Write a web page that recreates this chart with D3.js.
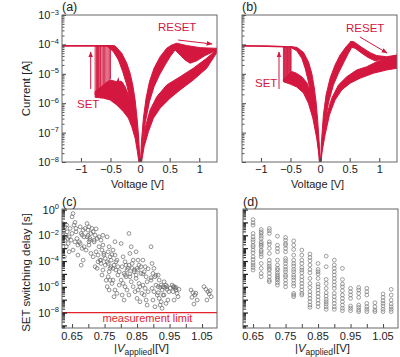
<!DOCTYPE html>
<html><head><meta charset="utf-8">
<script src="https://cdn.jsdelivr.net/npm/d3@7"></script>
<style>body{margin:0;background:#fff} text{font-family:"Liberation Sans",Arial,sans-serif;fill:#222}</style>
</head><body><svg id="c" width="400" height="357"></svg>
<script>
// ---------- Panel (a) I-V data: [voltage V, log10 current A] ----------
const aCompliance = [[-1.32,-4.05],[-0.45,-4.05]];
const aSetV   = [-0.76,-0.74,-0.73,-0.72,-0.71,-0.70,-0.69,-0.67,-0.66,-0.64,-0.62,-0.60,-0.58,-0.56,-0.54,-0.52,-0.50];
const aSetLow = [-5.72,-5.78,-5.65,-5.70,-5.62,-5.58,-5.55,-5.60,-5.50,-5.45,-5.40,-5.48,-5.35,-5.30,-5.25,-5.22,-5.18];
const aLrsNegHi = [[-0.45,-4.05],[-0.422,-4.05],[-0.31,-4.30],[-0.225,-4.64],[-0.169,-4.98],[-0.124,-5.38],[-0.084,-5.89],[-0.051,-6.51],[-0.023,-7.19],[0,-8.3]];
const aLrsNegLo = [[-0.563,-4.05],[-0.45,-4.25],[-0.366,-4.53],[-0.293,-4.93],[-0.225,-5.38],[-0.169,-5.89],[-0.113,-6.51],[-0.056,-7.19],[-0.017,-7.76],[0,-8.3]];
const aHrsNegHi = [[-0.76,-5.6],[-0.66,-5.45],[-0.56,-5.28],[-0.507,-5.21],[-0.394,-5.27],[-0.31,-5.27],[-0.253,-5.44],[-0.197,-5.72],[-0.141,-6.06],[-0.084,-6.51],[-0.039,-7.08],[-0.011,-7.76],[0,-8.3]];
const aHrsNegLo = [[-0.76,-5.80],[-0.619,-5.83],[-0.507,-5.89],[-0.394,-6.06],[-0.282,-6.29],[-0.197,-6.51],[-0.141,-6.80],[-0.084,-7.19],[-0.045,-7.65],[0,-8.3]];
const aGlitch = [[-0.40,-5.35],[-0.37,-5.20],[-0.35,-5.40],[-0.33,-5.24],[-0.31,-5.45],[-0.29,-5.30]];
const aLrsPosHi = [[0,-8.3],[0.023,-7.31],[0.056,-6.51],[0.101,-5.83],[0.158,-5.27],[0.236,-4.81],[0.338,-4.42],[0.45,-4.13],[0.535,-4.02]];
const aLrsPosLo = [[0,-8.3],[0.039,-7.31],[0.09,-6.63],[0.158,-5.95],[0.236,-5.44],[0.327,-5.04],[0.422,-4.70],[0.507,-4.42],[0.591,-4.19]];
const aResetHi = [[0.535,-4.02],[0.62,-3.96],[0.788,-4.04],[1.014,-4.11],[1.239,-4.13],[1.306,-4.13]];
const aResetLo = [[0.591,-4.19],[0.676,-4.36],[0.76,-4.53],[0.845,-4.64],[0.957,-4.56],[1.098,-4.38],[1.239,-4.25],[1.306,-4.19]];
const aHrsPosHi = [[1.306,-4.16],[1.126,-4.47],[0.9,-4.81],[0.676,-5.10],[0.45,-5.38],[0.282,-5.78],[0.169,-6.23],[0.084,-6.85],[0.034,-7.54],[0,-8.3]];
const aHrsPosLo = [[1.306,-4.25],[1.126,-4.81],[0.9,-5.21],[0.676,-5.55],[0.507,-5.83],[0.338,-6.17],[0.225,-6.51],[0.141,-6.97],[0.068,-7.48],[0,-8.3]];

// ---------- Panel (b) I-V data ----------
const bCompliance = [[-1.32,-4.05],[-0.9,-4.06],[-0.6,-4.08],[-0.45,-4.09]];
const bSetV   = [-0.62,-0.61,-0.60,-0.59,-0.58,-0.57,-0.56,-0.55,-0.54,-0.53,-0.52,-0.51,-0.50,-0.49];
const bSetLow = [-5.25,-5.22,-5.20,-5.18,-5.15,-5.12,-5.10,-5.07,-5.05,-5.02,-5.00,-4.97,-4.95,-4.92];
const bLrsNegHi = [[-0.45,-4.09],[-0.394,-4.10],[-0.282,-4.27],[-0.197,-4.59],[-0.141,-4.98],[-0.101,-5.44],[-0.068,-5.95],[-0.039,-6.63],[-0.017,-7.31],[0,-8.3]];
const bLrsNegLo = [[-0.507,-4.09],[-0.394,-4.22],[-0.31,-4.47],[-0.253,-4.81],[-0.197,-5.27],[-0.152,-5.83],[-0.101,-6.40],[-0.056,-7.08],[-0.023,-7.65],[0,-8.3]];
const bHrsNegHi = [[-0.62,-5.2],[-0.55,-5.05],[-0.48,-4.92],[-0.40,-4.98],[-0.31,-5.1],[-0.225,-5.3],[-0.15,-5.7],[-0.09,-6.2],[-0.045,-6.85],[-0.015,-7.5],[0,-8.3]];
const bHrsNegLo = [[-0.62,-5.27],[-0.507,-5.35],[-0.394,-5.45],[-0.282,-5.65],[-0.197,-6.0],[-0.124,-6.5],[-0.056,-7.2],[-0.017,-7.8],[0,-8.3]];
const bLrsPosHi = [[0,-8.3],[0.023,-7.31],[0.056,-6.40],[0.101,-5.72],[0.169,-5.15],[0.253,-4.70],[0.338,-4.36],[0.439,-4.08],[0.507,-3.93],[0.535,-3.90]];
const bLrsPosLo = [[0,-8.3],[0.039,-7.31],[0.084,-6.63],[0.146,-5.95],[0.225,-5.38],[0.310,-4.98],[0.394,-4.64],[0.479,-4.30],[0.535,-4.10],[0.563,-4.05]];
const bResetHi = [[0.507,-3.91],[0.563,-3.90],[0.704,-4.10],[0.845,-4.28],[0.957,-4.38],[1.126,-4.42],[1.306,-4.36]];
const bResetLo = [[0.535,-4.10],[0.591,-4.13],[0.704,-4.30],[0.816,-4.45],[0.929,-4.56],[1.126,-4.47],[1.306,-4.42]];
const bHrsPosHi = [[1.306,-4.36],[1.126,-4.47],[0.957,-4.59],[0.788,-4.76],[0.619,-4.87],[0.45,-5.10],[0.31,-5.38],[0.197,-5.83],[0.113,-6.40],[0.045,-7.19],[0,-8.3]];
const bHrsPosLo = [[1.306,-4.81],[1.126,-4.87],[0.901,-4.98],[0.676,-5.15],[0.507,-5.32],[0.366,-5.55],[0.253,-5.89],[0.158,-6.40],[0.084,-7.08],[0.034,-7.65],[0,-8.3]];

// ---------- Panel (c): [|V applied|, log10 delay s] ----------
const cPoints = [
[0.622,-1.09],[0.628,-1.34],[0.625,-1.60],[0.635,-1.73],[0.630,-1.99],[0.641,-2.12],[0.628,-2.38],[0.638,-2.64],[0.632,-2.89],[0.641,-3.28],[0.626,-3.67],[0.644,-1.47],[0.636,-2.25],[0.622,-2.0],[0.633,-1.2],
[0.653,-0.31],[0.650,-0.57],[0.656,-1.21],[0.662,-1.47],[0.650,-1.86],[0.665,-2.25],[0.659,-2.51],[0.668,-2.76],[0.653,-3.15],[0.662,-1.73],[0.647,-2.38],[0.668,-3.54],[0.659,-1.0],
[0.675,-1.34],[0.684,-1.60],[0.678,-1.86],[0.687,-2.12],[0.672,-2.51],[0.681,-3.02],[0.684,-3.93],[0.678,-4.32],[0.690,-1.47],[0.675,-2.64],[0.687,-2.89],[0.681,-1.99],
[0.696,-1.09],[0.702,-1.34],[0.699,-1.60],[0.708,-1.86],[0.696,-2.12],[0.705,-2.38],[0.702,-2.76],[0.693,-3.15],[0.708,-3.41],[0.699,-2.0],[0.705,-2.25],[0.711,-1.47],[0.702,-2.51],
[0.715,-1.73],[0.721,-1.99],[0.727,-2.25],[0.718,-2.51],[0.733,-2.89],[0.724,-3.28],[0.715,-3.67],[0.730,-4.06],[0.721,-4.44],[0.727,-4.57],[0.733,-2.12],[0.718,-2.38],[0.724,-1.5],[0.730,-3.54],[0.736,-3.93],
[0.739,-2.38],[0.745,-2.76],[0.742,-3.15],[0.748,-3.54],[0.739,-3.93],[0.752,-4.32],[0.745,-4.70],[0.742,-5.09],[0.748,-3.41],[0.752,-3.80],[0.739,-4.19],[0.745,-2.0],[0.755,-5.5],
[0.758,-2.12],[0.764,-2.89],[0.761,-3.28],[0.767,-3.67],[0.758,-4.06],[0.770,-4.44],[0.764,-4.83],[0.761,-5.22],[0.767,-5.48],[0.773,-5.74],[0.758,-5.99],[0.764,-6.25],[0.770,-3.93],[0.761,-4.19],[0.767,-4.57],[0.773,-3.5],
[0.776,-3.15],[0.782,-3.54],[0.788,-3.93],[0.779,-4.32],[0.785,-4.70],[0.791,-5.09],[0.776,-5.48],[0.795,-5.87],[0.782,-6.25],[0.788,-6.51],[0.779,-6.77],[0.785,-4.06],[0.791,-4.44],[0.776,-4.57],[0.795,-4.83],[0.782,-2.5],
[0.801,-2.64],[0.807,-3.67],[0.813,-4.06],[0.804,-4.44],[0.819,-4.70],[0.810,-4.96],[0.816,-5.22],[0.801,-5.48],[0.807,-5.74],[0.813,-5.99],[0.819,-6.25],[0.804,-6.64],[0.810,-7.03],[0.816,-4.32],[0.822,-4.57],[0.813,-5.09],
[0.825,-1.86],[0.832,-2.89],[0.828,-3.41],[0.838,-3.93],[0.825,-4.32],[0.835,-4.57],[0.841,-4.83],[0.828,-5.22],[0.832,-5.61],[0.838,-5.99],[0.844,-6.38],[0.825,-6.64],[0.835,-4.19],[0.841,-4.70],[0.828,-5.0],
[0.847,-3.28],[0.853,-3.93],[0.856,-4.32],[0.850,-4.57],[0.862,-4.96],[0.847,-5.35],[0.856,-5.74],[0.859,-5.99],[0.853,-6.25],[0.865,-6.51],[0.850,-6.90],[0.859,-7.16],[0.862,-4.44],[0.853,-4.70],[0.847,-5.09],
[0.868,-3.93],[0.875,-4.44],[0.872,-4.83],[0.878,-5.22],[0.881,-5.61],[0.868,-5.87],[0.875,-6.12],[0.884,-6.38],[0.872,-6.64],[0.878,-7.03],[0.881,-7.42],[0.868,-5.0],[0.884,-4.6],
[0.893,-2.89],[0.896,-4.19],[0.902,-4.57],[0.899,-4.96],[0.905,-5.22],[0.893,-5.48],[0.908,-5.87],[0.896,-6.12],[0.902,-6.38],[0.912,-6.64],[0.899,-7.03],[0.905,-7.55],[0.908,-5.1],[0.893,-5.3],
[0.915,-5.09],[0.918,-5.48],[0.924,-5.87],[0.921,-6.05],[0.927,-6.25],[0.915,-6.46],[0.930,-6.64],[0.918,-6.90],[0.924,-7.16],[0.921,-7.42],[0.927,-7.67],[0.930,-6.0],[0.915,-5.99],
[0.933,-5.61],[0.939,-5.87],[0.936,-6.05],[0.942,-6.20],[0.948,-6.38],[0.933,-6.64],[0.945,-7.03],[0.939,-7.29],[0.952,-6.1],[0.942,-5.99],
[0.958,-5.87],[0.964,-5.99],[0.967,-6.12],[0.970,-6.25],[0.961,-6.38],[0.973,-6.51],[0.976,-6.77],[0.964,-7.03],[0.970,-6.05],[0.979,-6.2],[0.961,-6.0],
[1.016,-6.25],[1.022,-6.46],[1.028,-6.64],[1.019,-6.82],[1.035,-7.03],[1.025,-7.34],[1.031,-6.5],
[1.056,-5.99],[1.062,-6.20],[1.068,-6.38],[1.072,-6.56],[1.078,-6.77],[1.065,-7.03],[1.075,-6.3]
];

// ---------- Panel (d): applied voltage columns and log10 delays ----------
const dVoltages = [0.65,0.675,0.70,0.725,0.75,0.775,0.80,0.825,0.85,0.875,0.90,0.925,0.95,0.975,1.0,1.025,1.05,1.075];
const dDelays = [
[-0.78,-1.03,-1.21,-1.86,-2.12,-2.33,-2.51,-2.77,-2.89,-3.15,-3.36,-3.67,-3.88,-4.13,-4.31,-4.50,-4.70],
[-1.55,-1.73,-1.86,-2.07,-2.25,-2.51,-2.64,-2.77,-2.89,-3.15,-3.28,-3.46,-3.67,-4.19,-4.57,-4.96,-5.22],
[-1.47,-1.65,-1.86,-2.51,-2.69,-3.02,-3.41,-3.93,-4.19,-4.39,-4.57,-4.70,-4.96,-5.22,-5.48,-5.61],
[-2.07,-2.77,-3.02,-3.28,-3.93,-4.31,-4.57,-4.70,-4.91,-5.09,-5.22,-5.35,-5.48,-5.68,-5.87],
[-2.17,-2.38,-2.64,-2.77,-3.02,-3.28,-3.80,-3.98,-4.19,-4.44,-4.65,-4.83,-5.09,-5.22,-5.48,-5.74,-6.0],
[-2.43,-2.77,-3.10,-3.54,-3.93,-4.19,-4.39,-4.65,-4.83,-5.09,-5.27,-5.48,-5.74,-5.94,-6.51,-6.64,-6.77],
[-3.15,-3.54,-3.93,-4.19,-4.50,-4.70,-4.91,-5.22,-5.48,-5.74,-6.0,-6.25,-6.51,-6.64],
[-3.46,-3.72,-3.98,-4.31,-4.65,-4.91,-5.35,-5.74,-6.05,-6.38,-6.64,-6.90,-7.16,-7.42,-7.60],
[-4.19,-4.65,-4.83,-5.01,-5.35,-5.79,-6.0,-6.25,-6.51,-6.77,-7.03,-7.29,-7.55],
[-3.62,-4.44,-5.43,-5.74,-6.12,-6.46,-6.72,-6.98,-7.16,-7.34,-7.55,-7.75],
[-3.93,-4.31,-4.57,-4.83,-5.09,-5.35,-5.61,-5.87,-6.12,-6.51,-6.77,-7.03,-7.29,-7.55,-7.75],
[-4.57,-5.43,-5.79,-6.0,-6.30,-6.64,-6.90,-7.16,-7.42,-7.67,-7.86],
[-6.12,-6.38,-6.64,-6.90,-7.49,-7.67,-7.86],
[-6.05,-6.25,-6.51,-6.82,-7.42,-7.60,-7.80,-7.93],
[-6.12,-6.38,-6.64,-7.29,-7.55,-7.75,-7.93],
[-7.24,-7.55,-7.80,-7.93],
[-6.56,-6.82,-7.08,-7.29,-7.49,-7.75,-7.93],
[-6.2,-6.64,-7.03,-7.34,-7.55,-7.75,-7.93]
];
const measurementLimit = -8;

// tick values
const ivXTicks = [-1,-0.5,0,0.5,1];
const ivYMajor = [-8,-7,-6,-5,-4,-3];
const dlyXTicks = [0.65,0.70,0.75,0.80,0.85,0.90,0.95,1.00,1.05];
const dlyXLabels = [0.65,0.75,0.85,0.95,1.05];
const dlyYMajor = [-9,-8,-7,-6,-5,-4,-3,-2,-1,0];
const dlyYLabels = [0,-2,-4,-6,-8];

// ---------- drawing ----------
const RED = "#d3173f", LRED = "#e3242b", FRAME = "#666";
const svg = d3.select("#c");
const defs = svg.append("defs");
defs.append("marker").attr("id","ah").attr("viewBox","0 0 10 10").attr("refX",9).attr("refY",5)
  .attr("markerWidth",6).attr("markerHeight",6).attr("orient","auto-start-reverse")
  .append("path").attr("d","M0,1 L10,5 L0,9 Z").attr("fill",RED);

function supLabel(sel, base, exp){
  sel.append("tspan").text(base);
  sel.append("tspan").attr("dy",-4.5).attr("font-size",7.5).text(exp);
}
function minorTicks(decades){
  const out=[];
  decades.forEach(d=>{for(let k=2;k<=9;k++) out.push(Math.pow(10,d)*k);});
  return out;
}
function fmtExp(e){ return (e<0?"\u2212":"")+Math.abs(e); }

function ivPanel(o){
  const g = svg.append("g");
  const x = d3.scaleLinear().domain([-1.32,1.3]).range([o.L,o.R]);
  const y = d3.scaleLog().domain([1e-8,1e-3]).range([o.B,o.T]);
  const cid = "clip"+o.id;
  defs.append("clipPath").attr("id",cid).append("rect").attr("x",o.L).attr("y",o.T).attr("width",o.R-o.L).attr("height",o.B-o.T);
  const pg = g.append("g").attr("clip-path",`url(#${cid})`);
  const P = p => [x(p[0]), y(Math.pow(10,p[1]))];
  const line = d3.line();
  o.bands.forEach(([hi,lo])=>{
    const pts = hi.map(P).concat(lo.slice().reverse().map(P));
    pg.append("path").attr("d",line(pts)+"Z").attr("fill",RED).attr("stroke",RED).attr("stroke-width",1).attr("stroke-linejoin","round");
  });
  o.lines.forEach(l=>{
    pg.append("path").attr("d",line(l.map(P))).attr("fill","none").attr("stroke",RED).attr("stroke-width",1.6);
  });
  o.setV.forEach((v,i)=>{
    pg.append("line").attr("x1",x(v)).attr("x2",x(v)).attr("y1",y(Math.pow(10,o.setLow[i]))).attr("y2",y(Math.pow(10,o.topAt)))
      .attr("stroke",RED).attr("stroke-width",0.9);
  });
  // axes
  const ax = g.append("g").attr("transform",`translate(0,${o.B})`)
    .call(d3.axisBottom(x).tickValues(ivXTicks).tickSize(-4).tickPadding(3).tickFormat(d3.format("")));
  ax.select(".domain").remove();
  ax.selectAll("line").attr("stroke","#444");
  ax.selectAll("text").attr("font-size",11).attr("fill","#222").attr("font-family","Liberation Sans, Arial, sans-serif");
  const ay = g.append("g").attr("transform",`translate(${o.L},0)`)
    .call(d3.axisLeft(y).tickValues(ivYMajor.map(e=>Math.pow(10,e))).tickSize(-4).tickFormat(""));
  ay.select(".domain").remove();
  ay.selectAll("line").attr("stroke","#444");
  const ay2 = g.append("g").attr("transform",`translate(${o.L},0)`)
    .call(d3.axisLeft(y).tickValues(minorTicks([-8,-7,-6,-5,-4])).tickSize(-2.5).tickFormat(""));
  ay2.select(".domain").remove();
  ay2.selectAll("line").attr("stroke","#555");
  if(o.showY){
    ivYMajor.forEach(e=>{
      const t = g.append("text").attr("x",o.L-3).attr("y",y(Math.pow(10,e))+4).attr("text-anchor","end").attr("font-size",11);
      supLabel(t,"10",fmtExp(e));
    });
    g.append("text").attr("transform",`translate(30,${(o.T+o.B)/2}) rotate(-90)`).attr("text-anchor","middle").attr("font-size",11.5).text("Current [A]");
  }
  g.append("rect").attr("x",o.L).attr("y",o.T).attr("width",o.R-o.L).attr("height",o.B-o.T).attr("fill","none").attr("stroke",FRAME).attr("stroke-width",1);
  g.append("text").attr("x",(o.L+o.R)/2-2).attr("y",188).attr("text-anchor","middle").attr("font-size",11).text("Voltage [V]");
  g.append("text").attr("x",o.L).attr("y",11).attr("font-size",12.5).text(o.tag);
  // annotations
  o.ann.forEach(a=>{
    g.append("text").attr("x",a.tx).attr("y",a.ty).attr("font-size",11.5).attr("fill",RED).style("fill",RED).text(a.t);
    g.append("line").attr("x1",a.x1).attr("y1",a.y1).attr("x2",a.x2).attr("y2",a.y2).attr("stroke",RED).attr("stroke-width",1).attr("marker-end","url(#ah)");
  });
}

ivPanel({id:"a",tag:"(a)",L:62,R:217,T:15,B:162,showY:true,
  bands:[[aLrsNegHi,aLrsNegLo],[aHrsNegHi,aHrsNegLo],[aLrsPosHi,aLrsPosLo],[aResetHi,aResetLo],[aHrsPosHi,aHrsPosLo]],
  lines:[aCompliance,aGlitch], setV:aSetV, setLow:aSetLow, topAt:-4.05,
  ann:[{t:"RESET",tx:158,ty:31,x1:178,y1:40,x2:212,y2:44},{t:"SET",tx:77,ty:108,x1:90.7,y1:89,x2:90.7,y2:52}]});
ivPanel({id:"b",tag:"(b)",L:242,R:397,T:15,B:162,showY:false,
  bands:[[bLrsNegHi,bLrsNegLo],[bHrsNegHi,bHrsNegLo],[bLrsPosHi,bLrsPosLo],[bResetHi,bResetLo],[bHrsPosHi,bHrsPosLo]],
  lines:[bCompliance], setV:bSetV, setLow:bSetLow, topAt:-4.08,
  ann:[{t:"RESET",tx:346,ty:32,x1:360,y1:37,x2:387,y2:53},{t:"SET",tx:255,ty:87,x1:279,y1:89,x2:279,y2:52}]});

function delayPanel(o){
  const g = svg.append("g");
  const x = d3.scaleLinear().domain([0.619,1.096]).range([o.L,o.R]);
  const y = d3.scaleLog().domain([Math.pow(10,-9.2),Math.pow(10,0.04)]).range([o.B,o.T]);
  const cid = "clip"+o.id;
  defs.append("clipPath").attr("id",cid).append("rect").attr("x",o.L).attr("y",o.T).attr("width",o.R-o.L).attr("height",o.B-o.T);
  const pg = g.append("g").attr("clip-path",`url(#${cid})`);
  if(o.limit){
    pg.append("line").attr("x1",o.L).attr("x2",o.R).attr("y1",y(Math.pow(10,measurementLimit))).attr("y2",y(Math.pow(10,measurementLimit)))
      .attr("stroke",LRED).attr("stroke-width",1.3);
    g.append("text").attr("x",(o.L+o.R)/2+8).attr("y",322).attr("text-anchor","middle").attr("font-size",11).style("fill",LRED).text("measurement limit");
  }
  pg.selectAll("circle").data(o.pts).join("circle")
    .attr("cx",d=>x(d[0])).attr("cy",d=>y(Math.pow(10,d[1]))).attr("r",1.9)
    .attr("fill","none").attr("stroke",o.ptColor).attr("stroke-width",0.7);
  const ax = g.append("g").attr("transform",`translate(0,${o.B})`)
    .call(d3.axisBottom(x).tickValues(dlyXTicks).tickSize(-4).tickFormat(""));
  ax.select(".domain").remove(); ax.selectAll("line").attr("stroke","#444");
  dlyXLabels.forEach(v=>{
    g.append("text").attr("x",x(v)).attr("y",o.B+12).attr("text-anchor","middle").attr("font-size",11).text(v.toFixed(2));
  });
  const ay = g.append("g").attr("transform",`translate(${o.L},0)`)
    .call(d3.axisLeft(y).tickValues(dlyYMajor.map(e=>Math.pow(10,e))).tickSize(-5).tickFormat(""));
  ay.select(".domain").remove(); ay.selectAll("line").attr("stroke","#222").attr("stroke-width",1.2);
  const ay2 = g.append("g").attr("transform",`translate(${o.L},0)`)
    .call(d3.axisLeft(y).tickValues(minorTicks([-10,-9,-8,-7,-6,-5,-4,-3,-2,-1]).filter(v=>v<=Math.pow(10,0.04)&&v>=Math.pow(10,-9.2))).tickSize(-3).tickFormat(""));
  ay2.select(".domain").remove(); ay2.selectAll("line").attr("stroke","#222");
  if(o.showY){
    dlyYLabels.forEach(e=>{
      const t = g.append("text").attr("x",o.L-3).attr("y",y(Math.pow(10,e))+4).attr("text-anchor","end").attr("font-size",11);
      supLabel(t,"10",fmtExp(e));
    });
    g.append("text").attr("transform",`translate(30,${(o.T+o.B)/2+4}) rotate(-90)`).attr("text-anchor","middle").attr("font-size",11.5).text("SET switching delay [s]");
  }
  g.append("rect").attr("x",o.L).attr("y",o.T).attr("width",o.R-o.L).attr("height",o.B-o.T).attr("fill","none").attr("stroke",FRAME).attr("stroke-width",1);
  const t = g.append("text").attr("x",(o.L+o.R)/2+2).attr("y",352).attr("text-anchor","middle").attr("font-size",11.5);
  t.append("tspan").text("|");
  t.append("tspan").attr("font-style","italic").text("V");
  t.append("tspan").attr("dy",3).attr("font-size",8.5).text("applied");
  t.append("tspan").attr("dy",-3).text("|[V]");
  g.append("text").attr("x",o.L).attr("y",206).attr("font-size",12.5).text(o.tag);
}

const dPoints = [];
dVoltages.forEach((v,i)=>dDelays[i].forEach(t=>dPoints.push([v,t])));
delayPanel({id:"c",tag:"(c)",L:62,R:217,T:209,B:328,showY:true,limit:true,pts:cPoints,ptColor:"#666"});
delayPanel({id:"d",tag:"(d)",L:243,R:398,T:209,B:328,showY:false,limit:false,pts:dPoints,ptColor:"#777"});
</script></body></html>
